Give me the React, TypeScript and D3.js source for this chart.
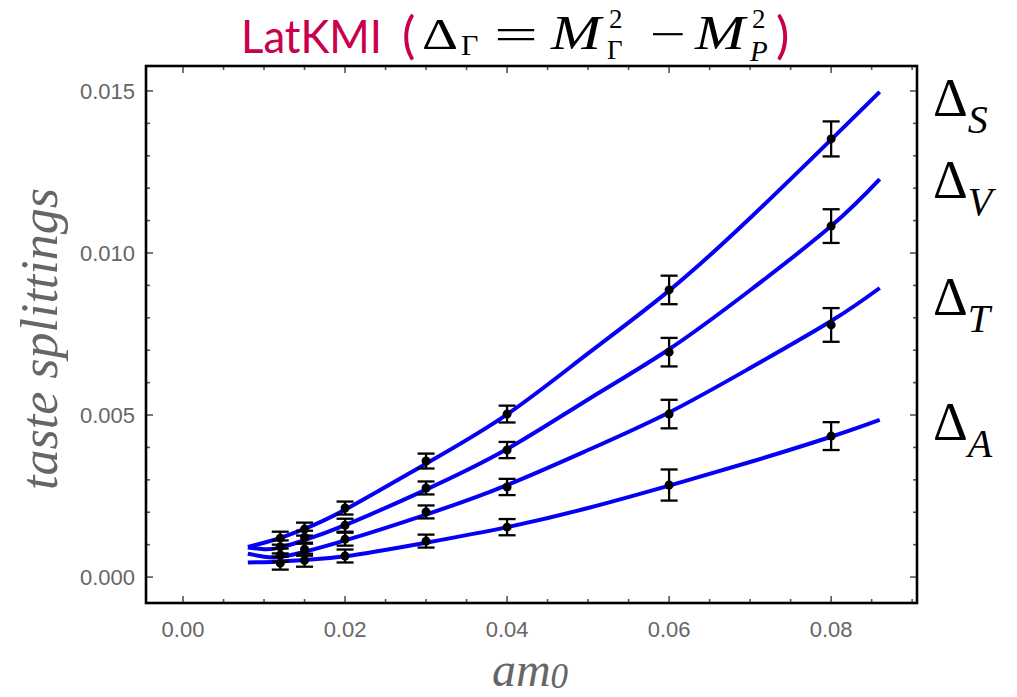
import React from "react";
import * as d3 from "d3";

// ---- data ----
const massX = [0.012, 0.015, 0.02, 0.03, 0.04, 0.06, 0.08];
const deltaS = [0.0012, 0.00148, 0.00213, 0.00358, 0.00503, 0.00886, 0.01352];
const deltaV = [0.00093, 0.00123, 0.0016, 0.00275, 0.00392, 0.00694, 0.01083];
const deltaT = [0.00068, 0.00086, 0.00117, 0.00201, 0.00278, 0.00503, 0.00778];
const deltaA = [0.00043, 0.00052, 0.00065, 0.00111, 0.00154, 0.00284, 0.00435];
const errS = [0.0002, 0.0002, 0.0002, 0.00023, 0.00026, 0.00044, 0.00054];
const errV = [0.0002, 0.0002, 0.0002, 0.0002, 0.00025, 0.00044, 0.00052];
const errT = [0.0002, 0.0002, 0.0002, 0.0002, 0.00025, 0.00044, 0.00052];
const errA = [0.0002, 0.0002, 0.0002, 0.0002, 0.00025, 0.00048, 0.00043];

const fitX = [0.008, 0.01, 0.012, 0.015, 0.02, 0.03, 0.04, 0.05, 0.06, 0.07, 0.08, 0.086];
const fitS = [0.00093, 0.00106, 0.00121, 0.00149, 0.00208, 0.0035, 0.00502, 0.0069, 0.00884, 0.01108, 0.0135, 0.01497];
const fitV = [0.00091, 0.00086, 0.00091, 0.00114, 0.0016, 0.0027, 0.00395, 0.00548, 0.00703, 0.00885, 0.01083, 0.01228];
const fitT = [0.00072, 0.00063, 0.00062, 0.00078, 0.00113, 0.00193, 0.00284, 0.00392, 0.00508, 0.00645, 0.0079, 0.00892];
const fitA = [0.00045, 0.00046, 0.00048, 0.00053, 0.00064, 0.00106, 0.00154, 0.00213, 0.00282, 0.00355, 0.00433, 0.00485];

const xTickLabels = ["0.00", "0.02", "0.04", "0.06", "0.08"];
const xMajor = [0, 0.02, 0.04, 0.06, 0.08];
const yTickLabels = ["0.000", "0.005", "0.010", "0.015"];
const yMajor = [0, 0.005, 0.01, 0.015];
const channelNames = ["S", "V", "T", "A"];
const channelLabelY = [0.0149, 0.01238, 0.00877, 0.00491];

const W = 1017;
const H = 697;
const L = 146, R = 917, T = 66, B = 603;

const SERIF = "'Liberation Serif', 'Times New Roman', serif";
const SANS = "Lato, 'Open Sans', sans-serif";
const CRIMSON = "#c8004e";

export default function App() {
  const x = d3.scaleLinear().domain([-0.00457, 0.0906]).range([L, R]);
  const y = d3.scaleLinear().domain([-0.0008, 0.01577]).range([B, T]);

  const series = [
    { v: deltaS, e: errS, f: fitS },
    { v: deltaV, e: errV, f: fitV },
    { v: deltaT, e: errT, f: fitT },
    { v: deltaA, e: errA, f: fitA },
  ];

  const line = d3
    .line<number>()
    .x((_, i) => x(fitX[i]))
    .y((d) => y(d))
    .curve(d3.curveNatural);

  const xMinor = d3.range(0, 0.0905, 0.005).filter((v) => !xMajor.some((m) => Math.abs(m - v) < 1e-9));
  const yMinor = d3.range(0, 0.0155, 0.001).filter((v) => !yMajor.some((m) => Math.abs(m - v) < 1e-9));
  const tickCol = "#555";
  const majLen = 7, minLen = 4;

  return (
    <svg width={W} height={H} style={{ position: "absolute", left: 0, top: 0, background: "#fff" }}>
      <rect x={0} y={0} width={W} height={H} fill="#fff" />
      {/* ticks */}
      <g stroke={tickCol} strokeWidth={1.6}>
        {xMajor.map((v) => (
          <g key={"xm" + v}>
            <line x1={x(v)} x2={x(v)} y1={B} y2={B - majLen} />
            <line x1={x(v)} x2={x(v)} y1={T} y2={T + majLen} />
          </g>
        ))}
        {xMinor.map((v) => (
          <g key={"xn" + v}>
            <line x1={x(v)} x2={x(v)} y1={B} y2={B - minLen} />
            <line x1={x(v)} x2={x(v)} y1={T} y2={T + minLen} />
          </g>
        ))}
        {yMajor.map((v) => (
          <g key={"ym" + v}>
            <line x1={L} x2={L + majLen} y1={y(v)} y2={y(v)} />
            <line x1={R} x2={R - majLen} y1={y(v)} y2={y(v)} />
          </g>
        ))}
        {yMinor.map((v) => (
          <g key={"yn" + v}>
            <line x1={L} x2={L + minLen} y1={y(v)} y2={y(v)} />
            <line x1={R} x2={R - minLen} y1={y(v)} y2={y(v)} />
          </g>
        ))}
      </g>
      {/* fit curves */}
      {series.map((s, k) => (
        <path key={"c" + k} d={line(s.f) || ""} fill="none" stroke="#0500f5" strokeWidth={4} />
      ))}
      {/* data points with error bars */}
      {series.map((s, k) => (
        <g key={"p" + k} stroke="#000" strokeWidth={2.3}>
          {massX.map((m, i) => {
            const cx = x(m);
            const y1 = y(s.v[i] + s.e[i]);
            const y2 = y(s.v[i] - s.e[i]);
            return (
              <g key={i}>
                <line x1={cx} x2={cx} y1={y1} y2={y2} />
                <line x1={cx - 8.5} x2={cx + 8.5} y1={y1} y2={y1} />
                <line x1={cx - 8.5} x2={cx + 8.5} y1={y2} y2={y2} />
                <circle cx={cx} cy={y(s.v[i])} r={4.5} fill="#000" stroke="none" />
              </g>
            );
          })}
        </g>
      ))}
      {/* frame */}
      <rect x={L} y={T} width={R - L} height={B - T} fill="none" stroke="#000" strokeWidth={2.6} />
      {/* tick labels */}
      <g fontFamily="'Liberation Sans', Arial, sans-serif" fontSize={22} fill="#666">
        {xMajor.map((v, i) => (
          <text key={"xl" + i} x={x(v)} y={637} textAnchor="middle">
            {xTickLabels[i]}
          </text>
        ))}
        {yMajor.map((v, i) => (
          <text key={"yl" + i} x={135} y={y(v) + 8} textAnchor="end">
            {yTickLabels[i]}
          </text>
        ))}
      </g>
      {/* axis titles */}
      <text
        transform={`translate(57, ${339}) rotate(-90)`}
        textAnchor="middle"
        fontFamily={SERIF}
        fontStyle="italic"
        fontSize={52}
        fill="#666"
      >
        taste splittings
      </text>
      <text x={530} y={686} textAnchor="middle" fontFamily={SERIF} fontStyle="italic" fontSize={48} fill="#666">
        am<tspan fontSize={35} dy={2}>0</tspan>
      </text>
      {/* title */}
      <g>
        <text x={241} y={53} fontFamily={SANS} fontSize={46} fill={CRIMSON} textLength={141} lengthAdjust="spacingAndGlyphs">
          LatKMI
        </text>
        <text x={402} y={53} fontFamily={SANS} fontSize={50} fill={CRIMSON}>
          (
        </text>
        <g fontFamily={SERIF} fill="#000">
          <text x={422} y={49} fontSize={44} textLength={36} lengthAdjust="spacingAndGlyphs">Δ</text>
          <text x={461} y={55} fontSize={30}>Γ</text>
          <text x={494} y={49} fontSize={44} textLength={44} lengthAdjust="spacingAndGlyphs">=</text>
          <text x={551} y={49} fontSize={48} fontStyle="italic" textLength={50} lengthAdjust="spacingAndGlyphs">M</text>
          <text x={609} y={28} fontSize={27}>2</text>
          <text x={607} y={59} fontSize={27}>Γ</text>
          <text x={650} y={49} fontSize={44} textLength={36} lengthAdjust="spacingAndGlyphs">−</text>
          <text x={695} y={49} fontSize={48} fontStyle="italic" textLength={50} lengthAdjust="spacingAndGlyphs">M</text>
          <text x={752} y={28} fontSize={27}>2</text>
          <text x={750} y={61} fontSize={29} fontStyle="italic">P</text>
        </g>
        <text x={776} y={53} fontFamily={SANS} fontSize={50} fill={CRIMSON}>
          )
        </text>
      </g>
      {/* channel labels */}
      <g fontFamily={SERIF} fill="#000">
        {channelNames.map((n, i) => (
          <text key={n} x={933} y={y(channelLabelY[i]) + 22} fontSize={54}>
            Δ<tspan fontSize={40} fontStyle="italic" dy={17}>{n}</tspan>
          </text>
        ))}
      </g>
    </svg>
  );
}
